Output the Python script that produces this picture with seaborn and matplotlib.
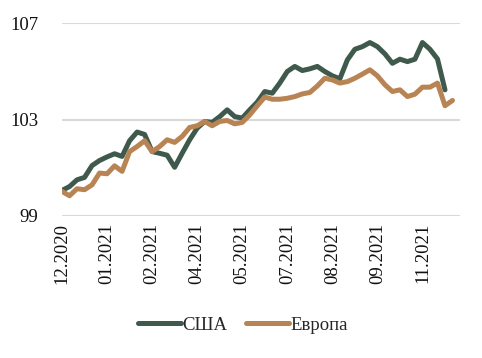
import numpy as np
import pandas as pd
import matplotlib
matplotlib.use("Agg")
import matplotlib.pyplot as plt
import seaborn as sns
from matplotlib.lines import Line2D

usa = [100.06, 100.22, 100.50, 100.60, 101.09, 101.30, 101.45, 101.58, 101.47, 102.12,
       102.48, 102.38, 101.67, 101.60, 101.52, 101.02, 101.60, 102.16, 102.64, 102.92,
       102.88, 103.12, 103.40, 103.12, 103.06, 103.40, 103.72, 104.16, 104.09, 104.51,
       104.99, 105.20, 105.03, 105.10, 105.20, 104.99, 104.81, 104.69, 105.47, 105.91,
       106.02, 106.19, 106.02, 105.72, 105.33, 105.50, 105.40, 105.50, 106.19, 105.91,
       105.51, 104.23]
europe = [100.02, 99.84, 100.13, 100.09, 100.29, 100.78, 100.75, 101.08, 100.85, 101.67,
          101.88, 102.12, 101.67, 101.88, 102.16, 102.05, 102.30, 102.67, 102.74, 102.92,
          102.74, 102.92, 102.96, 102.82, 102.88, 103.19, 103.57, 103.93, 103.84, 103.84,
          103.88, 103.95, 104.06, 104.12, 104.39, 104.71, 104.64, 104.51, 104.57, 104.71,
          104.88, 105.06, 104.81, 104.44, 104.16, 104.23, 103.95, 104.05, 104.34, 104.34,
          104.51, 103.57, 103.79]
tick_labels = ["12.2020", "01.2021", "02.2021", "04.2021", "05.2021",
               "07.2021", "08.2021", "09.2021", "11.2021"]
tick_step = 6
y_ticks = [99, 103, 107]

df = pd.concat([
    pd.DataFrame({"x": range(len(usa)), "value": usa, "series": "США"}),
    pd.DataFrame({"x": range(len(europe)), "value": europe, "series": "Европа"}),
])

sns.set_theme(style="white")
plt.rcParams["font.family"] = ["Liberation Serif", "DejaVu Serif"]

fig = plt.figure(figsize=(4.82, 3.58), dpi=100)
ax = fig.add_axes([62/482, 1-216/358, (460-62)/482, (216-23)/358])

sns.lineplot(data=df, x="x", y="value", hue="series",
             palette={"США": "#3F5A4C", "Европа": "#B98454"},
             linewidth=3.6, ax=ax, legend=False)

ax.set_xlim(0, 53)
ax.set_ylim(99, 107)
ax.set_yticks(y_ticks)
ax.set_yticklabels([str(v) for v in y_ticks], fontsize=13.5, color="#111111")
ax.set_xticks([i * tick_step for i in range(len(tick_labels))])
ax.set_xticklabels(tick_labels, rotation=90, fontsize=13.5, color="#111111")
ax.tick_params(axis="both", length=0)
ax.tick_params(axis="x", pad=5)
ax.tick_params(axis="y", pad=17)
ax.yaxis.grid(True, color="#D9D9D9", linewidth=1.5)
ax.xaxis.grid(False)
for s in ax.spines.values():
    s.set_visible(False)
ax.set_xlabel("")
ax.set_ylabel("")

handles = [Line2D([], [], color="#3F5A4C", linewidth=3.6),
           Line2D([], [], color="#B98454", linewidth=3.6)]
fig.legend(handles, ["США", "Европа"], loc="center", bbox_to_anchor=(243/482, 1-325/358),
           ncol=2, frameon=False, fontsize=13.5, handlelength=2.3, handletextpad=0.05,
           columnspacing=1.0)

fig.savefig("out.png", dpi=100)
